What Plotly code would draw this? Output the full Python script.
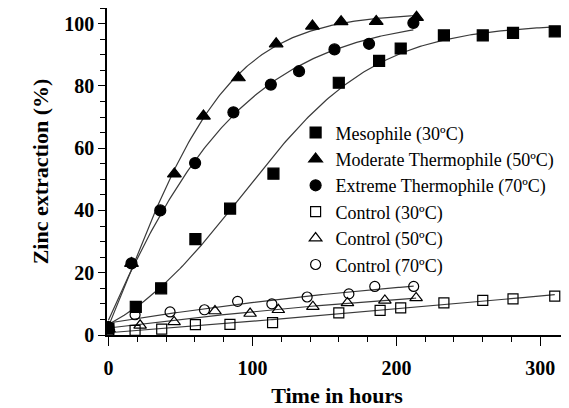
import numpy as np
import plotly.graph_objects as go

# ---- data ----
meso_t = [0, 19, 36.6, 60.4, 84.5, 114.6, 160, 188, 203, 233, 260, 281, 310]
meso_y = [2, 9.0, 15.0, 30.8, 40.6, 51.8, 81, 88, 92, 96.2, 96.2, 97, 97.5]

mod_t = [0, 16, 45.8, 66, 90.3, 116.5, 141.7, 161.6, 186, 214]
mod_y = [2, 23, 51.7, 70.3, 82.6, 93.5, 99.2, 100.6, 100.7, 102]

ext_t = [0, 16, 36, 60.2, 86.8, 112.8, 132.4, 157, 181, 211.8]
ext_y = [2.5, 23, 40, 55.2, 71.5, 80.4, 84.7, 91.7, 93.5, 100.2]

c30_t = [0, 18.5, 37, 60.4, 84.4, 114, 160, 188.7, 203, 233, 260, 281, 310]
c30_y = [1, 1.5, 1.9, 3.3, 3.4, 4.0, 7.1, 7.9, 8.7, 10.3, 11.1, 11.6, 12.5]

c50_t = [0, 22, 45.6, 74, 98.4, 118, 142, 166, 192, 213.7]
c50_y = [2.5, 3.1, 4.2, 7.7, 6.9, 8.1, 9.1, 10.3, 11.1, 11.9]

c70_t = [0, 18.5, 42.8, 66.7, 89.7, 113.5, 138, 167, 185, 212]
c70_y = [2.6, 6.5, 7.4, 8.1, 10.8, 10.0, 12.2, 13.2, 15.6, 15.6]

names = ["Mesophile (30ºC)", "Moderate Thermophile (50ºC)", "Extreme Thermophile (70ºC)",
         "Control (30ºC)", "Control (50ºC)", "Control (70ºC)"]


def logistic_fit(t, y):
    """Least-squares fit y = c + a/(1+exp(-k(t-t0))) (grid search on k, t0)."""
    t = np.asarray(t, float)
    y = np.asarray(y, float)
    best = None
    for k in np.linspace(0.005, 0.08, 120):
        for t0 in np.linspace(-40, 200, 241):
            s = 1.0 / (1.0 + np.exp(-k * (t - t0)))
            A = np.column_stack([s, np.ones_like(s)])
            coef, *_ = np.linalg.lstsq(A, y, rcond=None)
            r = np.sum((A @ coef - y) ** 2)
            if best is None or r < best[0]:
                best = (r, k, t0, coef)
    _, k, t0, (a, c) = best
    tt = np.linspace(t.min(), t.max(), 200)
    return tt, c + a / (1.0 + np.exp(-k * (tt - t0)))


def poly_fit(t, y, deg=2):
    t = np.asarray(t, float)
    p = np.polyfit(t, y, deg)
    tt = np.linspace(t.min(), t.max(), 200)
    return tt, np.polyval(p, tt)


series = [
    (names[0], meso_t, meso_y, "square", 11, logistic_fit),
    (names[1], mod_t, mod_y, "triangle-up", 12, logistic_fit),
    (names[2], ext_t, ext_y, "circle", 11, logistic_fit),
    (names[3], c30_t, c30_y, "square-open", 10, poly_fit),
    (names[4], c50_t, c50_y, "triangle-up-open", 11, poly_fit),
    (names[5], c70_t, c70_y, "circle-open", 10, poly_fit),
]

fig = go.Figure()
for name, t, y, sym, sz, fit in series:
    tt, yy = fit(t, y)
    fig.add_trace(go.Scatter(x=tt, y=yy, mode="lines", showlegend=False,
                             line=dict(color="#3a3a3a", width=1.2), hoverinfo="skip"))
for name, t, y, sym, sz, fit in series:
    fig.add_trace(go.Scatter(x=t, y=y, mode="markers", name=name,
                             marker=dict(symbol=sym, size=sz, color="black",
                                         line=dict(color="black", width=1.2))))

serif = "Liberation Serif, Times New Roman, serif"
# page body has an 8px default margin, so the figure is sized 8px smaller
fig.update_layout(
    width=561, height=400,
    margin=dict(l=99, r=2, t=0, b=73),
    paper_bgcolor="white", plot_bgcolor="white",
    font=dict(family=serif, color="black"),
    legend=dict(x=0.41, y=0.675, xanchor="left", yanchor="top",
                bgcolor="rgba(0,0,0,0)", font=dict(size=18, family=serif),
                itemwidth=30, tracegroupgap=0),
    xaxis=dict(range=[-1, 318.5], dtick=100, tick0=0, showgrid=False, zeroline=False,
               automargin=False,
               showline=True, linecolor="black", linewidth=1.5, mirror=True,
               ticks="outside", ticklen=9, tickwidth=1.3, tickcolor="black",
               ticklabelstandoff=5,
               minor=dict(dtick=20, ticklen=5, tickwidth=1.3, tickcolor="black", ticks="outside"),
               tickfont=dict(size=20, family=serif, weight="bold"),
               title=dict(text="<b>Time in hours</b>", font=dict(size=22, family=serif), standoff=16)),
    yaxis=dict(range=[0, 105], dtick=20, tick0=0, showgrid=False, zeroline=False,
               automargin=False,
               showline=True, linecolor="black", linewidth=1.5, mirror=True,
               ticks="outside", ticklen=7, tickwidth=1.3, tickcolor="black",
               minor=dict(dtick=5, ticklen=5, tickwidth=1.3, tickcolor="black", ticks="outside"),
               tickfont=dict(size=20, family=serif, weight="bold"),
               title=dict(text="<b>Zinc extraction (%)</b>", font=dict(size=22, family=serif), standoff=10)),
)

fig.write_html("out.html")
